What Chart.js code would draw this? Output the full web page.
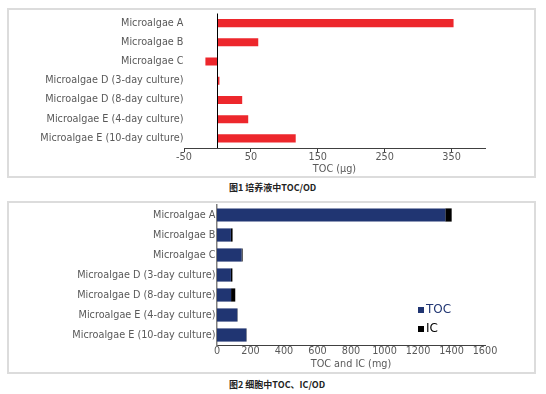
<!DOCTYPE html>
<html>
<head>
<meta charset="utf-8">
<script src="https://cdn.jsdelivr.net/npm/chart.js@4.4.1/dist/chart.umd.min.js"></script>
<style>
  body { margin: 0; background: #fff; width: 546px; height: 394px; position: relative; overflow: hidden; }
  .frame { position: absolute; left: 7px; width: 529px; border: 2px solid #dcdcdc; box-sizing: border-box; }
  canvas { position: absolute; left: 0; }
  .caption { position: absolute; left: 229px; font-family: "Noto Sans CJK SC", sans-serif; font-size: 9px; font-weight: bold; color: #222; line-height: 12px; }
</style>
</head>
<body>
<div class="frame" style="top:8px;height:170px;"></div>
<div class="frame" style="top:201px;height:173px;"></div>
<canvas id="chart1" width="546" height="180" style="top:0px;"></canvas>
<canvas id="chart2" width="546" height="180" style="top:195px;"></canvas>
<div class="caption" style="top:182px;">图1 培养液中TOC/OD</div>
<div class="caption" style="top:379px;">图2 细胞中TOC、IC/OD</div>
<script>
// categories (same for both charts)
var categories = ["Microalgae A", "Microalgae B", "Microalgae C",
  "Microalgae D (3-day culture)", "Microalgae D (8-day culture)",
  "Microalgae E (4-day culture)", "Microalgae E (10-day culture)"];

// fig 1 - TOC in culture medium (ug)
var mediumTOC = [353, 61, -18, 3, 37, 46, 117];
var mediumTicks = [-50, 50, 150, 250, 350];

// fig 2 - TOC and IC in cells (mg)
var cellTOC = [1363, 83, 147, 83, 84, 121, 175];
var cellIC = [38, 10, 6, 9, 25, 2, 2];

var labelFont = { family: "DejaVu Sans", size: 9.7 };
var grey = "#595959";

// vertical line at x = 0 for chart 1
var zeroLine = {
  id: "zeroLine",
  afterDatasetsDraw: function(chart) {
    var ctx = chart.ctx;
    var x = Math.round(chart.scales.x.getPixelForValue(0)) + 0.5;
    ctx.save();
    ctx.strokeStyle = "#000";
    ctx.lineWidth = 1;
    ctx.beginPath();
    ctx.moveTo(x, chart.chartArea.top);
    ctx.lineTo(x, chart.chartArea.bottom);
    ctx.stroke();
    ctx.restore();
  }
};

// small legend inside the plot of chart 2
var innerLegend = {
  id: "innerLegend",
  afterDraw: function(chart) {
    var ctx = chart.ctx;
    var area = chart.chartArea;
    ctx.save();
    ctx.font = "12px 'DejaVu Sans'";
    ctx.textBaseline = "middle";
    chart.data.datasets.forEach(function(ds, i) {
      var y = area.top + 105 + i * 19;
      ctx.fillStyle = ds.backgroundColor;
      ctx.fillRect(area.left + 201, y - 3, 6, 6);
      ctx.fillStyle = ds.textColor;
      ctx.fillText(ds.label, area.left + 209, y);
    });
    ctx.restore();
  }
};

new Chart(document.getElementById("chart1"), {
  type: "bar",
  data: {
    labels: categories,
    datasets: [{
      label: "TOC",
      data: mediumTOC,
      backgroundColor: "#ed272c",
      barPercentage: 0.42,
      categoryPercentage: 1
    }]
  },
  options: {
    indexAxis: "y",
    responsive: false,
    animation: false,
    layout: { padding: { top: 13.5, bottom: 5, left: 4, right: 61 } },
    plugins: { legend: { display: false }, tooltip: { enabled: false } },
    scales: {
      x: {
        type: "linear",
        min: -50,
        max: 400,
        afterBuildTicks: function(scale) {
          scale.ticks = mediumTicks.map(function(v) { return { value: v }; });
        },
        afterFit: function(scale) { scale.height = 27; },
        grid: { drawOnChartArea: false, drawTicks: true, tickLength: 4, color: "#404040" },
        border: { display: true, color: "#404040", width: 1 },
        ticks: { color: grey, font: labelFont, padding: 0, maxRotation: 0 },
        title: { display: true, text: "TOC (μg)", color: grey, font: labelFont, padding: 0 }
      },
      y: {
        afterFit: function(scale) { scale.width = 180; },
        grid: { display: false, drawTicks: false },
        border: { display: false },
        ticks: { color: grey, font: labelFont, padding: 0.5 }
      }
    }
  },
  plugins: [zeroLine]
});

new Chart(document.getElementById("chart2"), {
  type: "bar",
  data: {
    labels: categories,
    datasets: [{
      label: "TOC",
      data: cellTOC,
      backgroundColor: "#203572",
      textColor: "#203572",
      barPercentage: 0.66,
      categoryPercentage: 1
    }, {
      label: "IC",
      data: cellIC,
      backgroundColor: "#000000",
      textColor: "#000000",
      barPercentage: 0.66,
      categoryPercentage: 1
    }]
  },
  options: {
    indexAxis: "y",
    responsive: false,
    animation: false,
    layout: { padding: { top: 10, bottom: 4.3, left: 17, right: 61 } },
    plugins: { legend: { display: false }, tooltip: { enabled: false } },
    scales: {
      x: {
        stacked: true,
        min: 0,
        max: 1600,
        ticks: {
          stepSize: 200, color: grey, font: labelFont, padding: 1, maxRotation: 0,
          callback: function(v) { return String(v); }
        },
        afterFit: function(scale) { scale.height = 25.7; },
        grid: { display: false, drawTicks: false },
        border: { display: true, color: "#404040", width: 1 },
        title: { display: true, text: "TOC and IC (mg)", color: grey, font: labelFont, padding: 0 }
      },
      y: {
        stacked: true,
        afterFit: function(scale) { scale.width = 200; },
        grid: { display: false, drawTicks: false },
        border: { display: true, color: "#808080", width: 1.5 },
        ticks: { color: grey, font: labelFont, padding: 1.5 }
      }
    }
  },
  plugins: [innerLegend]
});
</script>
</body>
</html>
